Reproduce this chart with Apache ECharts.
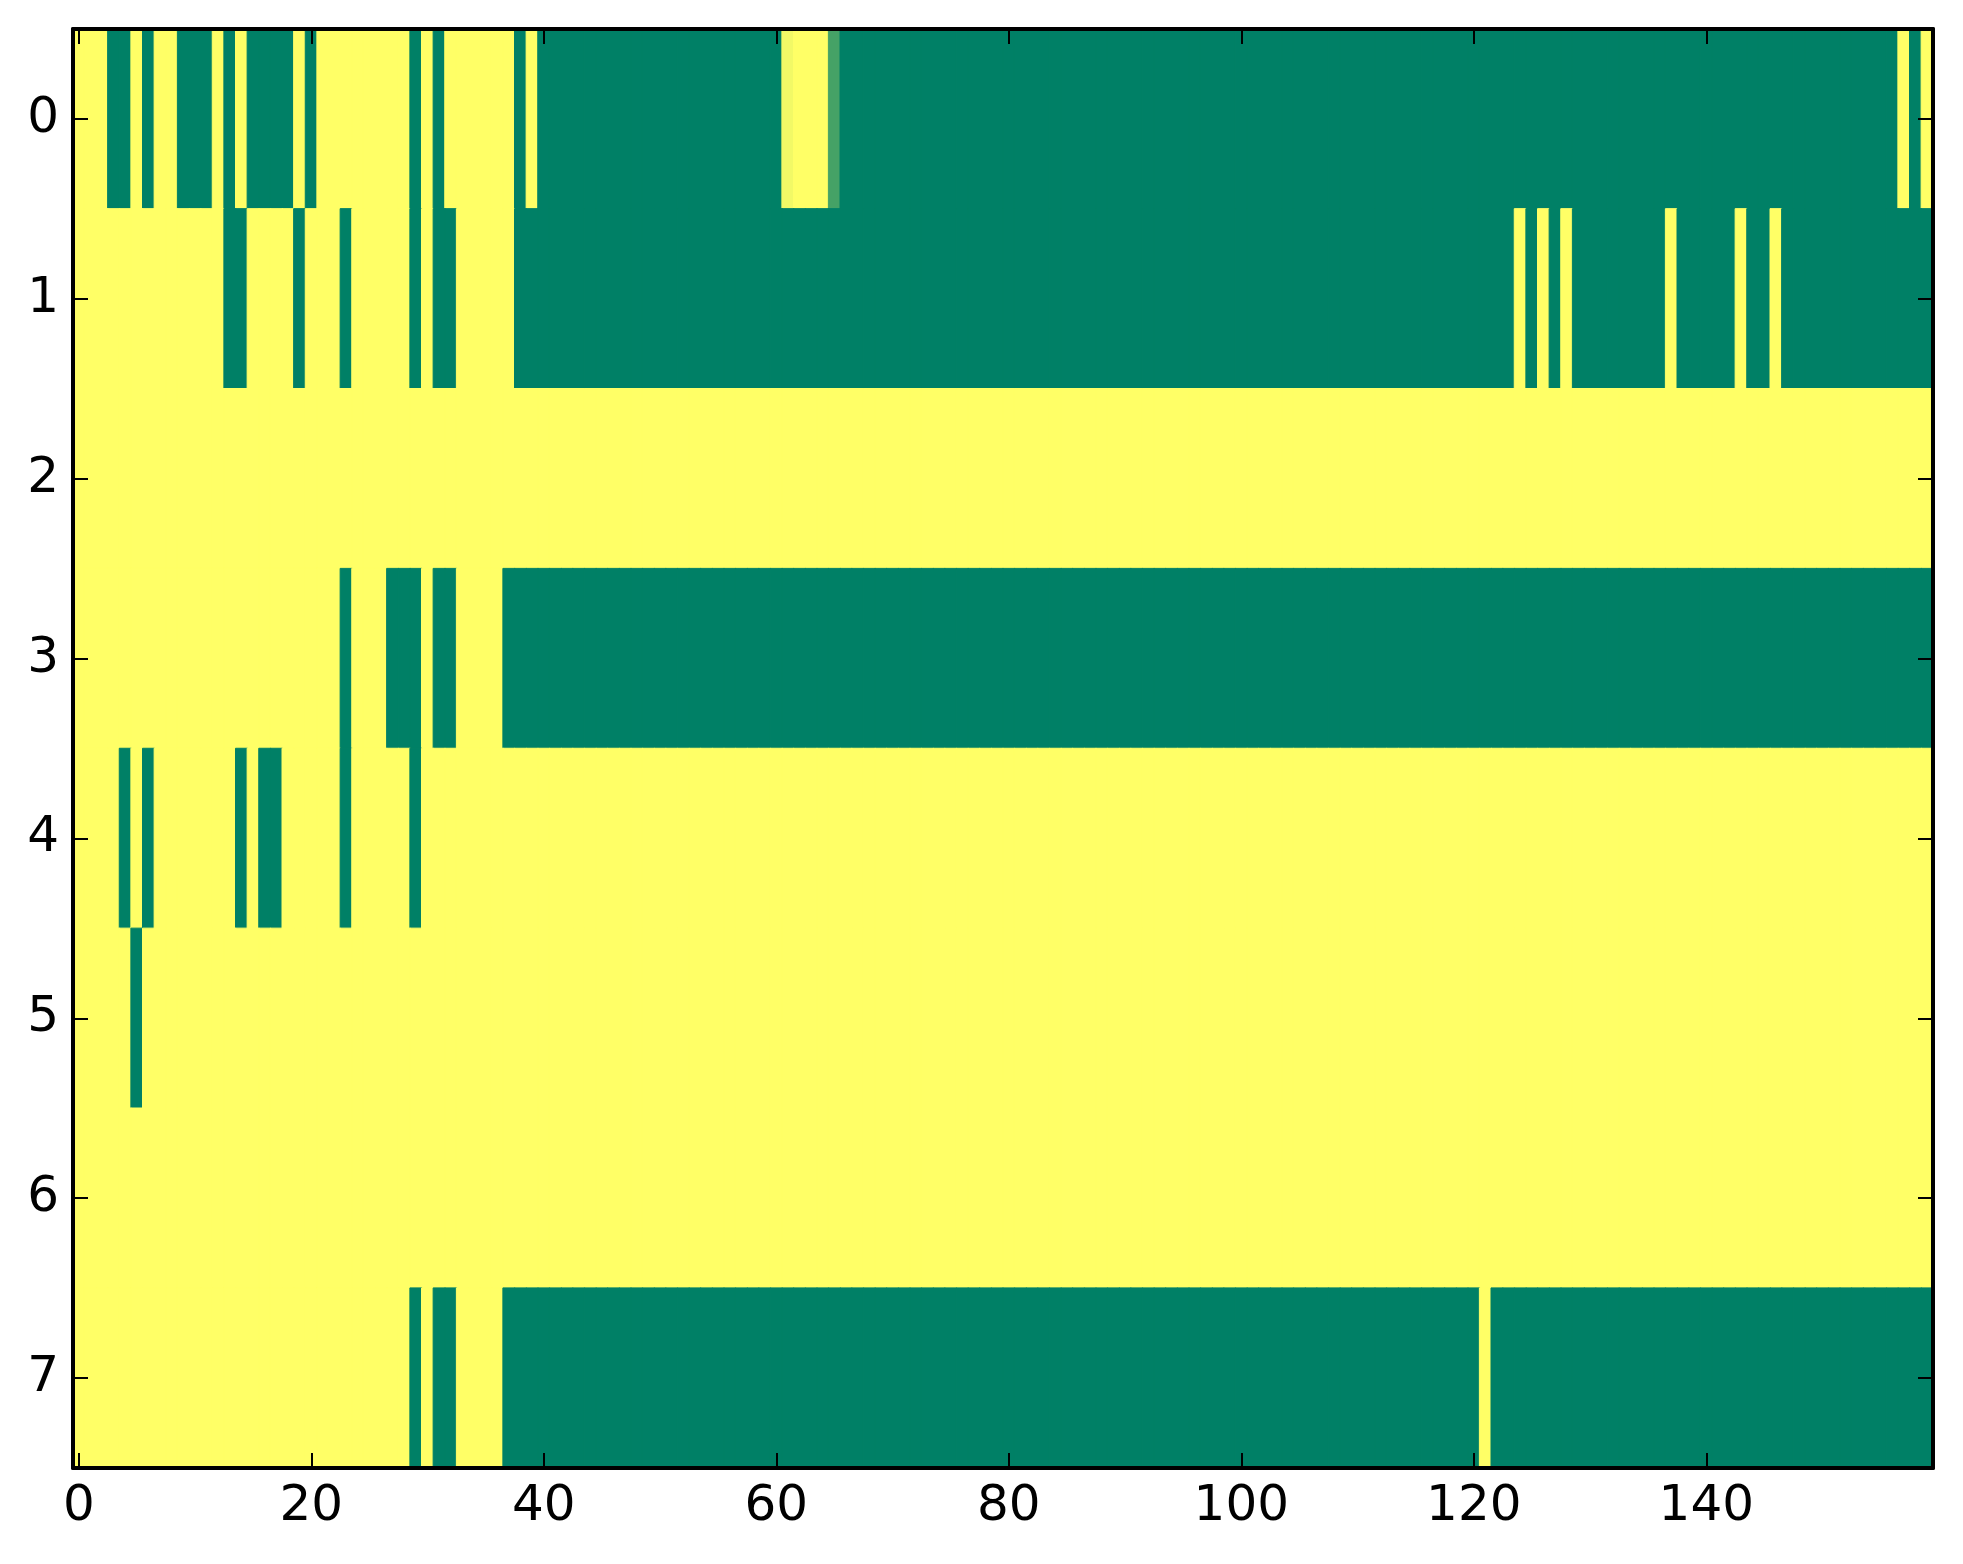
<!DOCTYPE html>
<html>
<head>
<meta charset="utf-8">
<script src="https://cdn.jsdelivr.net/npm/echarts@6/dist/echarts.min.js"></script>
<style>
    html, body { margin: 0; padding: 0; background: #ffffff; }
    #chart01 { width: 1963px; height: 1564px; }
</style>
</head>
<body>
<div id="chart01"></div>
<script>
// one array per image row, 160 columns each (0 = green, 1 = yellow)
var row0 = [
    1,1,1,0,0,1,0,1,1,0,0,0,1,0,1,0,0,0,0,1,
    0,1,1,1,1,1,1,1,1,0,1,0,1,1,1,1,1,1,0,1,
    0,0,0,0,0,0,0,0,0,0,0,0,0,0,0,0,0,0,0,0,
    0,0.95,1,1,1,0.27,0,0,0,0,0,0,0,0,0,0,0,0,0,0,
    0,0,0,0,0,0,0,0,0,0,0,0,0,0,0,0,0,0,0,0,
    0,0,0,0,0,0,0,0,0,0,0,0,0,0,0,0,0,0,0,0,
    0,0,0,0,0,0,0,0,0,0,0,0,0,0,0,0,0,0,0,0,
    0,0,0,0,0,0,0,0,0,0,0,0,0,0,0,0,0,1,0,1
];
var row1 = [
    1,1,1,1,1,1,1,1,1,1,1,1,1,0,0,1,1,1,1,0,
    1,1,1,0,1,1,1,1,1,0,1,0,0,1,1,1,1,1,0,0,
    0,0,0,0,0,0,0,0,0,0,0,0,0,0,0,0,0,0,0,0,
    0,0,0,0,0,0,0,0,0,0,0,0,0,0,0,0,0,0,0,0,
    0,0,0,0,0,0,0,0,0,0,0,0,0,0,0,0,0,0,0,0,
    0,0,0,0,0,0,0,0,0,0,0,0,0,0,0,0,0,0,0,0,
    0,0,0,0,1,0,1,0,1,0,0,0,0,0,0,0,0,1,0,0,
    0,0,0,1,0,0,1,0,0,0,0,0,0,0,0,0,0,0,0,0
];
var row2 = [
    1,1,1,1,1,1,1,1,1,1,1,1,1,1,1,1,1,1,1,1,
    1,1,1,1,1,1,1,1,1,1,1,1,1,1,1,1,1,1,1,1,
    1,1,1,1,1,1,1,1,1,1,1,1,1,1,1,1,1,1,1,1,
    1,1,1,1,1,1,1,1,1,1,1,1,1,1,1,1,1,1,1,1,
    1,1,1,1,1,1,1,1,1,1,1,1,1,1,1,1,1,1,1,1,
    1,1,1,1,1,1,1,1,1,1,1,1,1,1,1,1,1,1,1,1,
    1,1,1,1,1,1,1,1,1,1,1,1,1,1,1,1,1,1,1,1,
    1,1,1,1,1,1,1,1,1,1,1,1,1,1,1,1,1,1,1,1
];
var row3 = [
    1,1,1,1,1,1,1,1,1,1,1,1,1,1,1,1,1,1,1,1,
    1,1,1,0,1,1,1,0,0,0,1,0,0,1,1,1,1,0,0,0,
    0,0,0,0,0,0,0,0,0,0,0,0,0,0,0,0,0,0,0,0,
    0,0,0,0,0,0,0,0,0,0,0,0,0,0,0,0,0,0,0,0,
    0,0,0,0,0,0,0,0,0,0,0,0,0,0,0,0,0,0,0,0,
    0,0,0,0,0,0,0,0,0,0,0,0,0,0,0,0,0,0,0,0,
    0,0,0,0,0,0,0,0,0,0,0,0,0,0,0,0,0,0,0,0,
    0,0,0,0,0,0,0,0,0,0,0,0,0,0,0,0,0,0,0,0
];
var row4 = [
    1,1,1,1,0,1,0,1,1,1,1,1,1,1,0,1,0,0,1,1,
    1,1,1,0,1,1,1,1,1,0,1,1,1,1,1,1,1,1,1,1,
    1,1,1,1,1,1,1,1,1,1,1,1,1,1,1,1,1,1,1,1,
    1,1,1,1,1,1,1,1,1,1,1,1,1,1,1,1,1,1,1,1,
    1,1,1,1,1,1,1,1,1,1,1,1,1,1,1,1,1,1,1,1,
    1,1,1,1,1,1,1,1,1,1,1,1,1,1,1,1,1,1,1,1,
    1,1,1,1,1,1,1,1,1,1,1,1,1,1,1,1,1,1,1,1,
    1,1,1,1,1,1,1,1,1,1,1,1,1,1,1,1,1,1,1,1
];
var row5 = [
    1,1,1,1,1,0,1,1,1,1,1,1,1,1,1,1,1,1,1,1,
    1,1,1,1,1,1,1,1,1,1,1,1,1,1,1,1,1,1,1,1,
    1,1,1,1,1,1,1,1,1,1,1,1,1,1,1,1,1,1,1,1,
    1,1,1,1,1,1,1,1,1,1,1,1,1,1,1,1,1,1,1,1,
    1,1,1,1,1,1,1,1,1,1,1,1,1,1,1,1,1,1,1,1,
    1,1,1,1,1,1,1,1,1,1,1,1,1,1,1,1,1,1,1,1,
    1,1,1,1,1,1,1,1,1,1,1,1,1,1,1,1,1,1,1,1,
    1,1,1,1,1,1,1,1,1,1,1,1,1,1,1,1,1,1,1,1
];
var row6 = [
    1,1,1,1,1,1,1,1,1,1,1,1,1,1,1,1,1,1,1,1,
    1,1,1,1,1,1,1,1,1,1,1,1,1,1,1,1,1,1,1,1,
    1,1,1,1,1,1,1,1,1,1,1,1,1,1,1,1,1,1,1,1,
    1,1,1,1,1,1,1,1,1,1,1,1,1,1,1,1,1,1,1,1,
    1,1,1,1,1,1,1,1,1,1,1,1,1,1,1,1,1,1,1,1,
    1,1,1,1,1,1,1,1,1,1,1,1,1,1,1,1,1,1,1,1,
    1,1,1,1,1,1,1,1,1,1,1,1,1,1,1,1,1,1,1,1,
    1,1,1,1,1,1,1,1,1,1,1,1,1,1,1,1,1,1,1,1
];
var row7 = [
    1,1,1,1,1,1,1,1,1,1,1,1,1,1,1,1,1,1,1,1,
    1,1,1,1,1,1,1,1,1,0,1,0,0,1,1,1,1,0,0,0,
    0,0,0,0,0,0,0,0,0,0,0,0,0,0,0,0,0,0,0,0,
    0,0,0,0,0,0,0,0,0,0,0,0,0,0,0,0,0,0,0,0,
    0,0,0,0,0,0,0,0,0,0,0,0,0,0,0,0,0,0,0,0,
    0,0,0,0,0,0,0,0,0,0,0,0,0,0,0,0,0,0,0,0,
    0,1,0,0,0,0,0,0,0,0,0,0,0,0,0,0,0,0,0,0,
    0,0,0,0,0,0,0,0,0,0,0,0,0,0,0,0,0,0,0,0
];
var rows = [row0, row1, row2, row3, row4, row5, row6, row7];
var rowLabels = ['0', '1', '2', '3', '4', '5', '6', '7'];
var summer = ['#008066', '#ffff66'];

function chart01(id) {
    var myChart = echarts.init(document.getElementById(id));

    var colLabels = [];
    for (var c = 0; c < row0.length; c++) {
        colLabels.push(String(c));
    }
    // same colour on fill and a thin border so neighbouring cells leave no seams
    var cells = [];
    for (var r = 0; r < rows.length; r++) {
        for (var k = 0; k < rows[r].length; k++) {
            var col = echarts.color.lerp(rows[r][k], summer);
            cells.push({
                value: [k, r, rows[r][k]],
                itemStyle: { color: col, borderColor: col, borderWidth: 1 }
            });
        }
    }

    var spine = { show: true, onZero: false, lineStyle: { color: '#000000', width: 4 } };
    var label = { fontFamily: 'DejaVu Sans', fontSize: 50, color: '#000000' };
    var tickLine = { color: '#000000', width: 2 };

    var option = {
        backgroundColor: '#ffffff',
        animation: false,
        grid: {
            left: 73,
            right: 30,
            top: 29,
            bottom: 96
        },
        xAxis: [
            {
                type: 'category',
                position: 'bottom',
                data: colLabels,
                z: 10,
                axisLine: spine,
                axisTick: { show: true, inside: true, length: 15, interval: 19, alignWithLabel: true, lineStyle: tickLine },
                axisLabel: Object.assign({ interval: 19, margin: 14 }, label),
                splitLine: { show: false }
            },
            {
                type: 'category',
                position: 'top',
                data: colLabels,
                z: 10,
                axisLine: spine,
                axisTick: { show: true, inside: true, length: 15, interval: 19, alignWithLabel: true, lineStyle: tickLine },
                axisLabel: { show: false },
                splitLine: { show: false }
            }
        ],
        yAxis: [
            {
                type: 'category',
                position: 'left',
                inverse: true,
                data: rowLabels,
                z: 10,
                axisLine: spine,
                axisTick: { show: true, inside: true, length: 15, alignWithLabel: true, lineStyle: tickLine },
                axisLabel: Object.assign({ margin: 14 }, label),
                splitLine: { show: false }
            },
            {
                type: 'category',
                position: 'right',
                inverse: true,
                data: rowLabels,
                z: 10,
                axisLine: spine,
                axisTick: { show: true, inside: true, length: 15, alignWithLabel: true, lineStyle: tickLine },
                axisLabel: { show: false },
                splitLine: { show: false }
            }
        ],
        series: [
            {
                type: 'heatmap',
                xAxisIndex: 0,
                yAxisIndex: 0,
                data: cells,
                emphasis: { disabled: true }
            }
        ]
    };

    myChart.setOption(option);
    return myChart;
}

var chartInit01 = chart01('chart01');
window.addEventListener('resize', function () {
    chartInit01.resize();
});
</script>
</body>
</html>
